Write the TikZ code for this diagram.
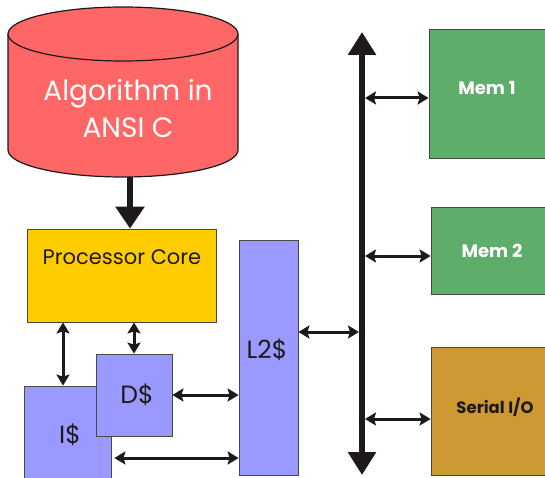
\documentclass[tikz,border=0pt]{standalone}
\usepackage{fontspec}
\setmainfont{Poppins}
\usetikzlibrary{arrows.meta}
\definecolor{cylred}{HTML}{FF6666}
\definecolor{coreyellow}{HTML}{FFCC00}
\definecolor{cacheblue}{HTML}{9999FF}
\definecolor{memgreen}{HTML}{5FAD6B}
\definecolor{ioochre}{HTML}{CC9933}
\definecolor{ink}{HTML}{1E1A1A}
\tikzset{
  block/.style={draw=ink!80, line width=0.8pt, inner sep=0pt},
  lbl/.style={inner sep=0pt, text=ink},
  link/.style={draw=ink, line width=3pt, {Stealth[length=11pt,width=13pt,inset=2pt]}-{Stealth[length=11pt,width=13pt,inset=2pt]}},
  busline/.style={draw=ink, line width=6pt, {Triangle[length=23pt,width=27pt]}-{Triangle[length=23pt,width=27pt]}},
  feed/.style={draw=ink, line width=6pt, -{Triangle[length=22pt,width=28pt]}},
}
\newcommand{\fsz}[1]{\fontsize{#1}{#1}\selectfont}
\begin{document}
\begin{tikzpicture}[x=1pt,y=-1pt]
\useasboundingbox (0,0) rectangle (545,478);
\clip (0,0) rectangle (545,478);

% source file drawn as a cylinder
\fill[cylred] (8,34) -- (8,150) arc[start angle=180,end angle=360,x radius=115,y radius=-27] -- (238,34) -- cycle;
\draw[ink, line width=1.2pt] (8,34) -- (8,150) arc[start angle=180,end angle=360,x radius=115,y radius=-27] -- (238,34);
\draw[ink, line width=1.2pt, fill=cylred] (123,34) ellipse[x radius=115, y radius=27];
\node[lbl, text=white, align=center, font=\fsz{28}] (algo) at (128,108) {Algorithm in\\[9pt]ANSI C};
\coordinate (cylbot) at (130,177);

% processor and caches
\node[block, fill=coreyellow, minimum width=189pt, minimum height=93pt] (core) at (121.5,275.5) {};
\node[lbl, font=\fsz{21}] (corelbl) at (122,257) {Processor Core};
\node[block, fill=cacheblue, minimum width=59pt, minimum height=235pt] (l2) at (268.5,357.5) {};
\node[lbl, font=\fsz{25}] (l2lbl) at (267,350) {L2\$};
\node[block, fill=cacheblue, minimum width=87pt, minimum height=96pt] (icache) at (67.5,434) {};
\node[lbl, font=\fsz{25}] (iclbl) at (70,435) {I\$};
\node[block, fill=cacheblue, minimum width=76pt, minimum height=82pt] (dcache) at (134,395) {};
\node[lbl, font=\fsz{25}] (dclbl) at (137,395) {D\$};

% memories and I/O
\node[block, fill=memgreen, minimum width=131pt, minimum height=129pt] (mem1) at (494.5,93.5) {};
\node[lbl, text=white, font=\bfseries\fsz{18}] (m1lbl) at (487,88) {Mem 1};
\node[block, fill=memgreen, minimum width=129pt, minimum height=87pt] (mem2) at (495.5,250.5) {};
\node[lbl, text=white, font=\bfseries\fsz{18}] (m2lbl) at (492,251) {Mem 2};
\node[block, fill=ioochre, minimum width=129pt, minimum height=128pt] (sio) at (495.5,411) {};
\node[lbl, font=\bfseries\fsz{16.5}] (siolbl) at (495,407) {Serial I/O};

% system bus
\coordinate (bustop) at (362,32);
\coordinate (busbot) at (362,475);
\draw[busline] (bustop) -- (busbot);

% connectors
\draw[feed] (cylbot) -- (cylbot |- core.north);
\coordinate (ix) at (63,0);
\draw[link] (ix |- core.south) -- (ix |- icache.north);
\draw[link] (core.south -| dcache.north) -- (dcache.north);
\draw[link] (dcache.east) -- (dcache.east -| l2.west);
\coordinate (iy) at (0,458);
\draw[link, shorten <=3pt] (iy -| icache.east) -- (iy -| l2.west);
\coordinate (ly) at (0,332);
\draw[link] (ly -| l2.east) -- ([xshift=-3pt]ly -| bustop);
\coordinate (m1y) at (0,98);
\draw[link] ([xshift=3pt]m1y -| bustop) -- (m1y -| mem1.west);
\coordinate (m2y) at (0,256);
\draw[link] ([xshift=3pt]m2y -| bustop) -- (m2y -| mem2.west);
\coordinate (sy) at (0,419);
\draw[link] ([xshift=3pt]sy -| bustop) -- (sy -| sio.west);
\end{tikzpicture}
\end{document}
